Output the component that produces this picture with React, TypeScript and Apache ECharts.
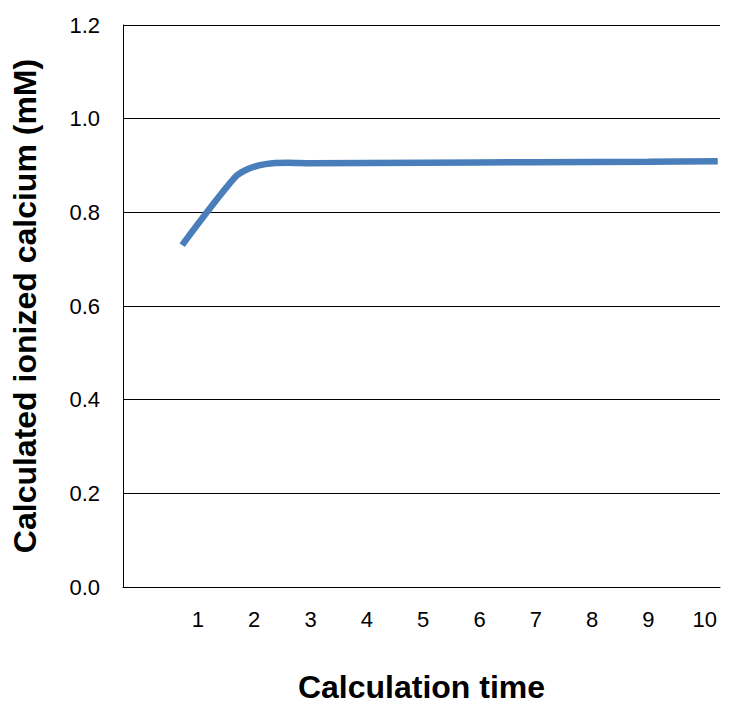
import React, { useEffect, useRef } from "react";
import * as echarts from "echarts";

const xTickLabels = [1, 2, 3, 4, 5, 6, 7, 8, 9, 10];
const yTicks = [0, 0.2, 0.4, 0.6, 0.8, 1.0, 1.2];
const timeValues = [0.72, 1.66, 1.9, 2.2, 2.6, 3.0, 5.0, 7.0, 9.0, 10.23];
const calciumValues = [0.73, 0.875, 0.893, 0.903, 0.906, 0.905, 0.906, 0.907, 0.908, 0.909];

export default function App() {
  const ref = useRef<HTMLDivElement>(null);
  useEffect(() => {
    const chart = echarts.init(ref.current!, null, { renderer: "svg" });
    const data = timeValues.map((t, i) => [t, calciumValues[i]]);
    chart.setOption({
      animation: false,
      grid: {
        left: 115,
        right: 8,
        top: 17,
        bottom: 119,
        outerBoundsMode: "none",
      },
      xAxis: {
        type: "value",
        min: -0.33,
        max: 10.27,
        name: "Calculation time",
        nameLocation: "middle",
        nameGap: 84,
        nameTextStyle: { fontFamily: "Liberation Sans, Arial", fontWeight: "bold", fontSize: 32, color: "#000" },
        axisLine: { show: true, onZero: false, lineStyle: { color: "#000", width: 1 } },
        axisTick: { show: false },
        splitLine: { show: false },
        axisLabel: {
          customValues: xTickLabels,
          fontFamily: "Liberation Sans, Arial",
          fontSize: 22,
          color: "#000",
          margin: 21,
        },
      },
      yAxis: {
        type: "value",
        min: 0,
        max: 1.2,
        interval: 0.2,
        name: "Calculated ionized calcium (mM)",
        nameLocation: "middle",
        nameGap: 82,
        nameTextStyle: { fontFamily: "Liberation Sans, Arial", fontWeight: "bold", fontSize: 32, color: "#000" },
        axisLine: { show: true, onZero: false, lineStyle: { color: "#000", width: 1 } },
        axisTick: { show: false },
        splitLine: { show: true, lineStyle: { color: "#000", width: 1 } },
        axisLabel: {
          customValues: yTicks,
          formatter: (v: number) => v.toFixed(1),
          fontFamily: "Liberation Sans, Arial",
          fontSize: 22,
          color: "#000",
          margin: 23,
        },
      },
      series: [
        {
          type: "line",
          data,
          smooth: 0.3,
          symbol: "none",
          lineStyle: { color: "#4a7ebb", width: 6.5, cap: "butt" },
        },
      ],
    });
    return () => chart.dispose();
  }, []);
  return <div ref={ref} style={{ width: 720, height: 698 }} />;
}
